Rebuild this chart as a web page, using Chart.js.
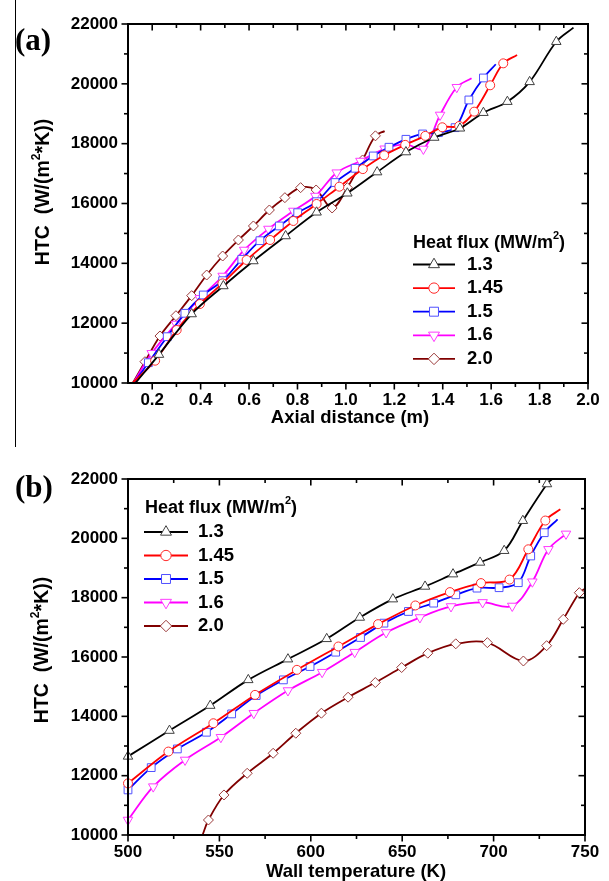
<!DOCTYPE html>
<html>
<head>
<meta charset="utf-8">
<script src="https://cdn.jsdelivr.net/npm/chart.js@4.4.0/dist/chart.umd.min.js"></script>
<style>
  body { margin: 0; background: #fff; width: 609px; height: 881px; position: relative; overflow: hidden; }
  canvas { position: absolute; left: 0; }
  #chartA { top: 0; }
  #chartB { top: 440px; }
  #rule { position: absolute; left: 15px; top: 0; width: 1px; height: 447px; background: #000; }
</style>
</head>
<body>
<div id="rule"></div>
<canvas id="chartA" width="609" height="440"></canvas>
<canvas id="chartB" width="609" height="441"></canvas>
<script>
// series names (heat flux, MW/m2)
const fluxLabels = ['1.3', '1.45', '1.5', '1.6', '2.0'];

// (a) HTC vs axial distance (m)
const aX13 = [0.131, 0.228, 0.363, 0.494, 0.618, 0.751, 0.879, 1.006, 1.129, 1.248, 1.365, 1.471, 1.568, 1.667, 1.759, 1.869, 1.940];
const aY13 = [10000, 10950, 12306, 13243, 14078, 14914, 15706, 16342, 17050, 17720, 18206, 18514, 19036, 19404, 20066, 21408, 21880];
const aX145 = [0.119, 0.212, 0.301, 0.397, 0.490, 0.590, 0.687, 0.783, 0.879, 0.973, 1.070, 1.158, 1.245, 1.328, 1.398, 1.468, 1.530, 1.596, 1.650, 1.707];
const aY145 = [10000, 10746, 11772, 12641, 13330, 14112, 14780, 15416, 15984, 16562, 17150, 17610, 17960, 18260, 18548, 18591, 19070, 19952, 20685, 20965];
const aX15 = [0.125, 0.184, 0.262, 0.335, 0.411, 0.491, 0.570, 0.645, 0.725, 0.801, 0.879, 0.955, 1.038, 1.113, 1.178, 1.248, 1.317, 1.382, 1.451, 1.508, 1.568, 1.619];
const aY15 = [10000, 10679, 11548, 12330, 12942, 13420, 14135, 14757, 15249, 15692, 16060, 16700, 17177, 17589, 17880, 18146, 18324, 18368, 18535, 19461, 20196, 20654];
const aX16 = [0.122, 0.198, 0.298, 0.397, 0.491, 0.580, 0.680, 0.783, 0.874, 0.962, 1.060, 1.160, 1.248, 1.320, 1.389, 1.458, 1.519];
const aY16 = [10000, 10993, 11972, 12831, 13577, 14446, 15148, 15750, 16250, 17030, 17420, 17830, 17979, 17823, 18960, 19886, 20186];
const aX20 = [0.120, 0.170, 0.232, 0.298, 0.363, 0.425, 0.491, 0.556, 0.618, 0.684, 0.748, 0.813, 0.877, 0.943, 1.006, 1.069, 1.122, 1.160];
const aY20 = [10000, 10712, 11571, 12250, 12920, 13610, 14245, 14780, 15249, 15783, 16195, 16530, 16452, 15850, 16530, 17455, 18262, 18420];

// (b) HTC vs wall temperature (K)
const bX13 = [500, 522.7, 545.0, 565.8, 587.5, 608.7, 626.8, 644.9, 662.5, 677.8, 692.6, 705.8, 716.0, 729.2, 732];
const bY13 = [12650, 13520, 14363, 15229, 15927, 16613, 17332, 17951, 18378, 18794, 19188, 19583, 20594, 21831, 22000];
const bX145 = [500, 522.1, 546.7, 569.5, 592.4, 615.1, 636.8, 657.2, 676.1, 693.1, 708.7, 719.0, 728.3, 736.5];
const bY145 = [11740, 12812, 13767, 14723, 15567, 16354, 17107, 17737, 18187, 18491, 18610, 19630, 20600, 20980];
const bX15 = [500, 512.7, 527.0, 542.9, 556.7, 570.1, 585.0, 599.6, 613.6, 627.2, 640.0, 653.4, 667.2, 679.3, 690.9, 703.0, 713.5, 720.3, 727.7, 735.0];
const bY15 = [11520, 12272, 12901, 13464, 14082, 14701, 15229, 15679, 16163, 16658, 17141, 17535, 17816, 18097, 18322, 18336, 18505, 19405, 20190, 20640];
const bX16 = [500, 513.8, 531.2, 550.8, 568.8, 587.5, 606.2, 624.0, 641.2, 659.7, 676.7, 694.0, 710.2, 721.2, 730.0, 739.6];
const bY16 = [10506, 11631, 12530, 13295, 14105, 14870, 15488, 16163, 16826, 17332, 17703, 17840, 17720, 18538, 19630, 20150];
const bX20 = [540.8, 544.0, 552.5, 565.2, 579.4, 591.8, 605.8, 620.4, 635.3, 649.7, 664.0, 679.3, 696.6, 716.3, 729.0, 738.1, 746.9, 750];
const bY20 = [10000, 10506, 11350, 12080, 12755, 13430, 14105, 14645, 15139, 15645, 16129, 16444, 16483, 15865, 16381, 17270, 18168, 18300];

// axis ticks
const aXTicks = [0.2, 0.4, 0.6, 0.8, 1.0, 1.2, 1.4, 1.6, 1.8, 2.0];
const aXMinor = [0.3, 0.5, 0.7, 0.9, 1.1, 1.3, 1.5, 1.7, 1.9];
const bXTicks = [500, 550, 600, 650, 700, 750];
const bXMinor = [525, 575, 625, 675, 725];
const yTicks = [10000, 12000, 14000, 16000, 18000, 20000, 22000];
const yMinor = [11000, 13000, 15000, 17000, 19000, 21000];

// look of each series
const lineColors = ['#000000', '#ff0000', '#0000ff', '#ff00ff', '#800000'];
const markColors = ['#404040', '#ff2a2a', '#5050ff', '#ff3cff', '#9a3a3a'];
const markStyles = ['triangle', 'circle', 'rect', 'triangle', 'rectRot'];
const markRot = [0, 0, 0, 180, 0];
const markSize = [5.5, 4.5, 5.5, 5.5, 5];

const FONT = "'Liberation Sans', Arial, Helvetica, sans-serif";

function series(xs, ys, i, bare) {
  const last = xs.length - 1;
  return {
    label: fluxLabels[i],
    data: xs.map((x, k) => ({ x: x, y: ys[k] })),
    borderColor: lineColors[i],
    borderWidth: 1.8,
    tension: 0.35,
    fill: false,
    clip: 8,
    pointStyle: markStyles[i],
    rotation: markRot[i],
    pointRadius: ctx => ((bare[0] && ctx.dataIndex === 0) || (bare[1] && ctx.dataIndex === last)) ? 0 : markSize[i],
    pointBackgroundColor: '#fff',
    pointBorderColor: markColors[i],
    pointBorderWidth: 1
  };
}

// text with a superscript piece: parts = [[text, isSup], ...]
function richText(ctx, parts, x, y, size, align) {
  const main = 'bold ' + size + 'px ' + FONT;
  const sup = 'bold ' + Math.round(size * 0.6) + 'px ' + FONT;
  let w = 0;
  parts.forEach(p => { ctx.font = p[1] ? sup : main; w += ctx.measureText(p[0]).width; });
  let cx = align === 'center' ? x - w / 2 : x;
  ctx.textAlign = 'left';
  ctx.textBaseline = 'middle';
  parts.forEach(p => {
    ctx.font = p[1] ? sup : main;
    ctx.fillText(p[0], cx, p[1] ? y - size * 0.4 : y);
    cx += ctx.measureText(p[0]).width;
  });
}

function legendMark(ctx, i, x, y) {
  const r = markSize[i] * 1.15;
  ctx.beginPath();
  if (markStyles[i] === 'circle') {
    ctx.arc(x, y, r, 0, Math.PI * 2);
  } else if (markStyles[i] === 'rect') {
    const h = r * Math.SQRT1_2;
    ctx.rect(x - h, y - h, 2 * h, 2 * h);
  } else if (markStyles[i] === 'rectRot') {
    ctx.moveTo(x, y - r); ctx.lineTo(x + r, y); ctx.lineTo(x, y + r); ctx.lineTo(x - r, y); ctx.closePath();
  } else {
    const s = markRot[i] ? -1 : 1;
    ctx.moveTo(x, y - s * r);
    ctx.lineTo(x + r * 0.866, y + s * r * 0.5);
    ctx.lineTo(x - r * 0.866, y + s * r * 0.5);
    ctx.closePath();
  }
  ctx.fillStyle = '#fff';
  ctx.fill();
  ctx.strokeStyle = markColors[i];
  ctx.lineWidth = 1;
  ctx.stroke();
}

function decor(cfg) {
  return {
    id: 'decor',
    afterDatasetsDraw(chart) {
      const ctx = chart.ctx, a = chart.chartArea, sx = chart.scales.x, sy = chart.scales.y;
      ctx.save();
      ctx.strokeStyle = '#000';
      ctx.lineWidth = 2;
      ctx.strokeRect(a.left, a.top, a.right - a.left, a.bottom - a.top);
      ctx.lineWidth = 1.6;
      const seg = (x1, y1, x2, y2) => { ctx.beginPath(); ctx.moveTo(x1, y1); ctx.lineTo(x2, y2); ctx.stroke(); };
      const xt = (vals, len) => vals.forEach(v => {
        const p = sx.getPixelForValue(v);
        seg(p, a.bottom, p, a.bottom + len);
        seg(p, a.top, p, a.top + len);
      });
      const yt = (vals, len) => vals.forEach(v => {
        const p = sy.getPixelForValue(v);
        seg(a.left - len, p, a.left, p);
        seg(a.right - len, p, a.right, p);
      });
      xt(cfg.xMajor, 6.5); xt(cfg.xMinor, 4);
      yt(yTicks, 6.5); yt(yMinor, 4);
      ctx.restore();
    },
    afterDraw(chart) {
      const ctx = chart.ctx;
      ctx.save();
      ctx.fillStyle = '#000';
      // panel tag
      ctx.font = 'bold 31px "Liberation Serif", "Times New Roman", serif';
      ctx.textAlign = 'left';
      ctx.textBaseline = 'middle';
      ctx.fillText(cfg.tag, 15, cfg.tagY);
      // axis titles
      richText(ctx, [[cfg.xTitle, false]], cfg.xTitleX, cfg.xTitleY, 18.5, 'center');
      ctx.save();
      ctx.translate(cfg.yTitleX, cfg.yTitleY);
      ctx.rotate(-Math.PI / 2);
      richText(ctx, [['HTC  (W/(m', false], ['2', true], ['*K))', false]], 0, 0, 19.5, 'center');
      ctx.restore();
      // legend
      const L = cfg.legend;
      richText(ctx, [['Heat flux (MW/m', false], ['2', true], [')', false]], L.titleX, L.titleY, 18, 'left');
      fluxLabels.forEach((lab, i) => {
        const y = L.rowY + i * L.rowGap;
        ctx.strokeStyle = lineColors[i];
        ctx.lineWidth = 1.8;
        ctx.beginPath(); ctx.moveTo(L.x0, y); ctx.lineTo(L.x1, y); ctx.stroke();
        legendMark(ctx, i, (L.x0 + L.x1) / 2, y);
        ctx.fillStyle = '#000';
        richText(ctx, [[lab, false]], L.textX, y, 18.5, 'left');
      });
      ctx.restore();
    }
  };
}

function axes(xMin, xMax, xTicks, xFmt, yWidth, xHeight) {
  const tickFont = { family: FONT, size: 17, weight: 'bold' };
  return {
    x: {
      type: 'linear', min: xMin, max: xMax,
      afterBuildTicks: s => { s.ticks = xTicks.map(v => ({ value: v })); },
      afterFit: s => { s.height = xHeight; },
      ticks: { callback: xFmt, font: tickFont, color: '#000', padding: 7, maxRotation: 0, autoSkip: false },
      grid: { display: false, drawTicks: false },
      border: { display: false }
    },
    y: {
      type: 'linear', min: 10000, max: 22000,
      afterBuildTicks: s => { s.ticks = yTicks.map(v => ({ value: v })); },
      afterFit: s => { s.width = yWidth; },
      ticks: { callback: v => String(v), font: tickFont, color: '#000', padding: 10, autoSkip: false },
      grid: { display: false, drawTicks: false },
      border: { display: false }
    }
  };
}

const common = {
  responsive: false,
  animation: false,
  devicePixelRatio: 1,
  plugins: { legend: { display: false }, tooltip: { enabled: false } }
};

// chart (a)
new Chart(document.getElementById('chartA'), {
  type: 'line',
  data: {
    datasets: [
      series(aX13, aY13, 0, [true, true]),
      series(aX145, aY145, 1, [true, true]),
      series(aX15, aY15, 2, [true, true]),
      series(aX16, aY16, 3, [true, true]),
      series(aX20, aY20, 4, [true, true])
    ]
  },
  options: Object.assign({}, common, {
    layout: { padding: { left: 0, top: 24, right: 21, bottom: 0 } },
    scales: axes(0.1, 2.0, aXTicks, v => v.toFixed(1), 128, 57)
  }),
  plugins: [decor({
    tag: '(a)', tagY: 42,
    xMajor: aXTicks, xMinor: aXMinor,
    xTitle: 'Axial distance (m)', xTitleX: 350, xTitleY: 418,
    yTitleX: 44, yTitleY: 192,
    legend: { titleX: 413, titleY: 243, rowY: 264.5, rowGap: 23.6, x0: 413, x1: 455, textX: 467 }
  })]
});

// chart (b)
new Chart(document.getElementById('chartB'), {
  type: 'line',
  data: {
    datasets: [
      series(bX13, bY13, 0, [false, true]),
      series(bX145, bY145, 1, [false, true]),
      series(bX15, bY15, 2, [false, true]),
      series(bX16, bY16, 3, [false, false]),
      series(bX20, bY20, 4, [true, true])
    ]
  },
  options: Object.assign({}, common, {
    layout: { padding: { left: 0, top: 39, right: 24, bottom: 0 } },
    scales: axes(500, 750, bXTicks, v => String(v), 128, 46)
  }),
  plugins: [decor({
    tag: '(b)', tagY: 49,
    xMajor: bXTicks, xMinor: bXMinor,
    xTitle: 'Wall temperature (K)', xTitleX: 356, xTitleY: 432,
    yTitleX: 43, yTitleY: 210,
    legend: { titleX: 145, titleY: 68, rowY: 92, rowGap: 23.5, x0: 144, x1: 188, textX: 198 }
  })]
});
</script>
</body>
</html>
